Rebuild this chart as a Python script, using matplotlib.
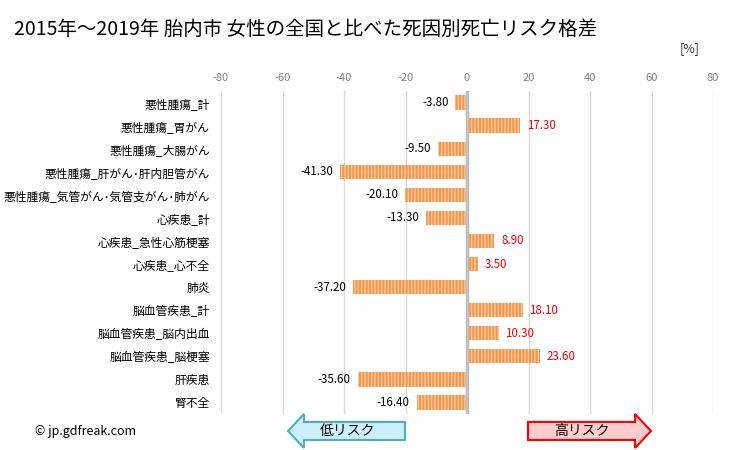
import matplotlib
matplotlib.use("Agg")
import matplotlib.pyplot as plt
from matplotlib.patches import FancyArrow

plt.rcParams['font.family'] = ['Noto Sans CJK JP', 'DejaVu Sans']

categories = ["悪性腫瘍_計", "悪性腫瘍_胃がん", "悪性腫瘍_大腸がん", "悪性腫瘍_肝がん･肝内胆管がん",
              "悪性腫瘍_気管がん･気管支がん･肺がん", "心疾患_計", "心疾患_急性心筋梗塞", "心疾患_心不全",
              "肺炎", "脳血管疾患_計", "脳血管疾患_脳内出血", "脳血管疾患_脳梗塞", "肝疾患", "腎不全"]
values = [-3.80, 17.30, -9.50, -41.30, -20.10, -13.30, 8.90, 3.50, -37.20, 18.10, 10.30, 23.60, -35.60, -16.40]
xticks = [-80, -60, -40, -20, 0, 20, 40, 60, 80]

fig = plt.figure(figsize=(7.29, 4.5), dpi=100)
ax = fig.add_axes([221/729, 1-414/450, (713-221)/729, (414-91)/450])

plt.rcParams['hatch.linewidth'] = 1.0
y = list(range(len(categories)))
for yi, v in zip(y, values):
    ax.barh(yi, v, height=0.62, color='#F7964A', edgecolor='#FCC79A', hatch='|||||', linewidth=0, zorder=2)
    if v < 0:
        ax.text(v - 2.2, yi, f"{v:.2f}", ha='right', va='center', fontsize=8.3, color='#000000')
    else:
        ax.text(v + 2.2, yi, f"{v:.2f}", ha='left', va='center', fontsize=8.3, color='#FF0000')

ax.set_xlim(-80, 80)
ax.set_ylim(len(categories) - 0.5, -0.5)
ax.set_xticks(xticks)
ax.set_xticklabels([str(t) for t in xticks])
ax.xaxis.tick_top()
ax.tick_params(axis='x', length=0, labelsize=8, labelcolor='#808080', pad=6)
ax.set_yticks(y)
ax.set_yticklabels(categories)
ax.tick_params(axis='y', length=0, labelsize=8.5, pad=8)
ax.grid(axis='x', color='#D9D9D9', linewidth=1, zorder=0)
ax.axvline(0, color='#BFBFBF', linewidth=2.5, zorder=3)
for s in ax.spines.values():
    s.set_visible(False)

fig.text(14/729, 1-29/450, "2015年～2019年 胎内市 女性の全国と比べた死因別死亡リスク格差", fontsize=14, va='center', ha='left')
fig.text(700/729, 1-49/450, "[%]", fontsize=9, va='center', ha='right', color='#333333')
fig.text(35/729, 1-431/450, "© jp.gdfreak.com", fontsize=9, va='center', ha='left')

# arrows in figure pixel coords
fax = fig.add_axes([0, 0, 1, 1], facecolor='none')
fax.set_xlim(0, 729)
fax.set_ylim(450, 0)
fax.axis('off')
fax.add_patch(FancyArrow(405, 431, -117, 0, width=18, head_width=34, head_length=16,
                         length_includes_head=True, facecolor='#CCEFFA', edgecolor='#4BACC6', linewidth=1.5))
fax.text(348, 431, "低リスク", ha='center', va='center', fontsize=10)
fax.add_patch(FancyArrow(528, 431, 123, 0, width=18, head_width=34, head_length=16,
                         length_includes_head=True, facecolor='#FFCCCC', edgecolor='#FF0000', linewidth=1.5))
fax.text(582, 431, "高リスク", ha='center', va='center', fontsize=10)

fig.savefig("out.png", dpi=100)
